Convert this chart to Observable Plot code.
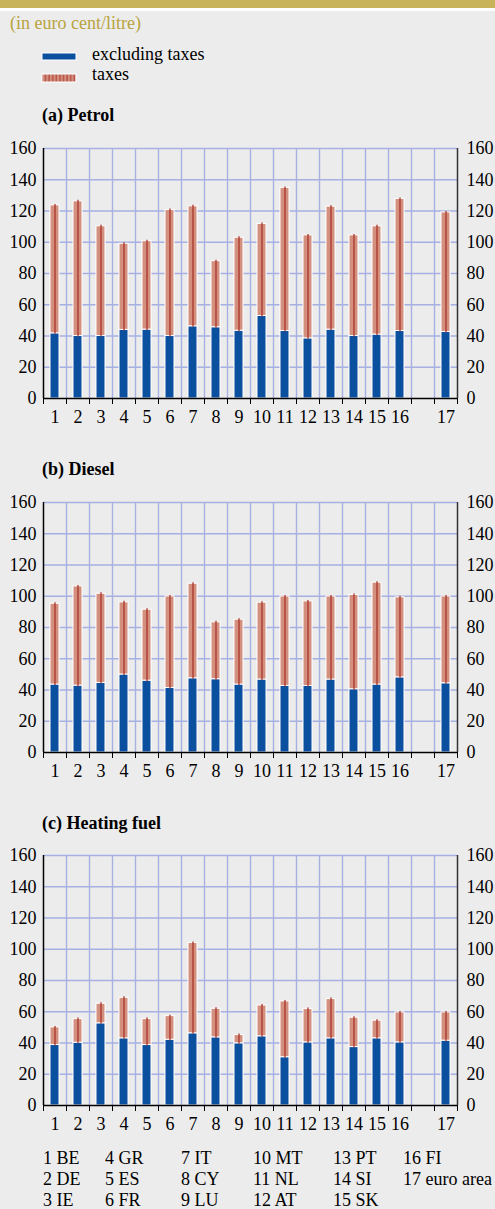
<!DOCTYPE html>
<html><head><meta charset="utf-8">
<script src="https://cdn.jsdelivr.net/npm/d3@7"></script>
<script src="https://cdn.jsdelivr.net/npm/@observablehq/plot@0.6"></script>
<style>
html,body{margin:0;padding:0;background:#ececec;}
#page{position:relative;width:495px;height:1209px;overflow:hidden;background:#ececec;font-family:'Liberation Serif','Times New Roman',serif;font-size:18px;color:#000;}
.abs{position:absolute;white-space:nowrap;line-height:21px;}
.band{position:absolute;left:0;top:0;width:495px;height:8px;background:#c8b35a;}
.band2{position:absolute;left:0;top:8px;width:495px;height:3px;background:#ffffff;}
.sub{color:#b8a33e;}
.ttl{font-weight:bold;}
.chart{position:absolute;left:0;}
.chart svg text{font-family:'Liberation Serif','Times New Roman',serif;}
#key{position:absolute;left:43px;top:1148px;display:grid;grid-auto-flow:column;grid-template-rows:repeat(3,21px);grid-template-columns:62px 76px 72px 80px 70px auto;line-height:21px;white-space:nowrap;}
</style></head><body><div id="page">
<div class="band"></div><div class="band2"></div>
<div class="abs sub" style="left:10px;top:13px;">(in euro cent/litre)</div>
<svg class="abs" style="left:40px;top:50px;" width="40" height="36">
  <defs><pattern id="stripes" width="3.6" height="10" patternUnits="userSpaceOnUse">
    <rect width="3.6" height="10" fill="#d4907f"/><rect x="1.4" width="1" height="10" fill="#a8352a"/></pattern></defs>
  <rect x="2" y="3" width="34" height="7" fill="#0b4f9f" stroke="#fff" stroke-width="1"/>
  <rect x="2" y="24" width="34" height="8" fill="url(#stripes)" stroke="#fff" stroke-width="1"/>
</svg>
<div class="abs" style="left:92px;top:44px;">excluding taxes</div>
<div class="abs" style="left:92px;top:64px;">taxes</div>
<div class="abs ttl" style="left:42px;top:105px;">(a) Petrol</div>
<div class="abs ttl" style="left:42px;top:459px;">(b) Diesel</div>
<div class="abs ttl" style="left:42px;top:813px;">(c) Heating fuel</div>
<div class="chart" id="c1" style="top:138px;"></div>
<div class="chart" id="c2" style="top:492px;"></div>
<div class="chart" id="c3" style="top:845px;"></div>
<div id="key"></div>
</div>
<script>
const countries = ["1","2","3","4","5","6","7","8","9","10","11","12","13","14","15","16","17"];
const countryNames = ["BE","DE","IE","GR","ES","FR","IT","CY","LU","MT","NL","AT","PT","SI","SK","FI","euro area"];
const yTicks = [0,20,40,60,80,100,120,140,160];

const petrolExTax = [41.7,40.0,40.0,43.9,44.1,40.0,46.2,45.6,43.4,52.8,43.2,38.5,44.1,40.0,40.9,43.2,42.6];
const petrolTotal = [123.6,126.2,110.2,99.0,100.7,120.6,123.0,87.9,102.9,111.7,134.8,104.4,122.8,104.4,110.2,127.7,119.1];

const dieselExTax = [43.5,42.8,44.5,49.9,46.0,41.3,47.5,46.9,43.5,46.7,42.6,42.6,46.7,40.5,43.5,48.1,44.3];
const dieselTotal = [95.2,106.3,101.6,96.1,91.4,99.9,108.0,83.3,85.0,95.9,99.9,96.7,99.9,100.8,108.7,99.3,99.9];

const heatingExTax = [38.7,40.2,52.6,43.0,38.7,42.1,46.2,43.6,39.8,44.3,30.9,40.4,43.0,37.4,43.0,40.4,41.5];
const heatingTotal = [50.0,55.3,65.1,68.9,55.3,57.2,104.0,61.9,45.1,64.0,66.6,61.7,68.1,56.2,54.3,59.6,59.6];

// slot index on the x axis: one empty slot before the euro area
const slotOf = i => (i < 16 ? i : 17);
const nSlots = 18;
const serif = "'Liberation Serif','Times New Roman',serif";

function chart(ex, total) {
  const data = countries.map((c, i) => ({c, slot: slotOf(i), ex: ex[i], total: total[i]}));
  const centers = data.map(d => d.slot + 0.5);
  const labelAt = new Map(data.map(d => [d.slot + 0.5, d.c]));
  const txt = {fontFamily: serif, fontSize: 18, fill: "#000"};
  return Plot.plot({
    width: 495, height: 290,
    marginTop: 10, marginBottom: 30, marginLeft: 43, marginRight: 38,
    style: `font-family:${serif};font-size:18px;background:transparent;overflow:visible;color:#000;`,
    x: {type: "linear", domain: [0, nSlots], label: null},
    y: {domain: [0, 160], label: null},
    marks: [
      Plot.gridY(yTicks.filter(t => t > 0), {stroke: "#a6b0e2", strokeOpacity: 1, strokeWidth: 1.4}),
      Plot.gridX(d3.range(1, nSlots), {stroke: "#a6b0e2", strokeOpacity: 1, strokeWidth: 1.4}),
      Plot.rect(data, {x1: "slot", x2: d => d.slot + 1, y1: 0, y2: "ex", insetLeft: 7, insetRight: 7, fill: "#0b4f9f", stroke: "#fff", strokeWidth: 1}),
      Plot.rect(data, {x1: "slot", x2: d => d.slot + 1, y1: "ex", y2: "total", insetLeft: 7, insetRight: 7, fill: "#d4907f", stroke: "#fff", strokeWidth: 1}),
      Plot.ruleX(data, {x: d => d.slot + 0.5, y1: "ex", y2: "total", stroke: "#a8352a", strokeWidth: 1.3, insetTop: 1, insetBottom: 1}),
      Plot.ruleY([0], {stroke: "#000", strokeWidth: 1.5}),
      Plot.ruleX([0], {stroke: "#000", strokeWidth: 1.5}),
      Plot.ruleX([nSlots], {y1: 0, y2: 160, stroke: "#333", strokeWidth: 1.5}),
      Plot.axisX({ticks: d3.range(0, nSlots + 1), tickSize: 6, tickFormat: () => "", stroke: "#000", label: null}),
      Plot.axisX({ticks: centers, tickSize: 0, tickPadding: 12, tickFormat: v => labelAt.get(v) ?? "", label: null, ...txt}),
      Plot.axisY({anchor: "left", ticks: yTicks, tickSize: 0, tickPadding: 7, label: null, ...txt}),
      Plot.axisY({anchor: "right", ticks: yTicks, tickSize: 0, tickPadding: 9, label: null, ...txt})
    ]
  });
}

document.getElementById("c1").append(chart(petrolExTax, petrolTotal));
document.getElementById("c2").append(chart(dieselExTax, dieselTotal));
document.getElementById("c3").append(chart(heatingExTax, heatingTotal));

const key = document.getElementById("key");
countries.forEach((c, i) => {
  const d = document.createElement("div");
  d.textContent = c + " " + countryNames[i];
  key.append(d);
});
</script>
</body></html>
